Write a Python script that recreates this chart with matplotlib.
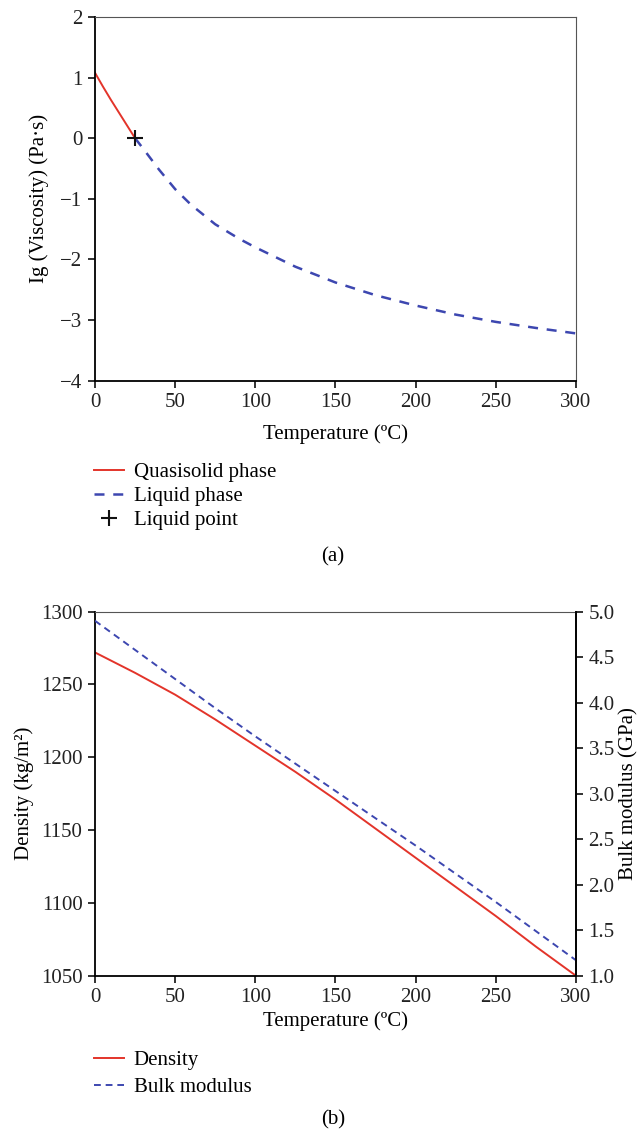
import matplotlib
matplotlib.use("Agg")
import matplotlib.pyplot as plt

plt.rcParams['font.family'] = ['Liberation Serif', 'DejaVu Serif']
plt.rcParams['font.size'] = 15

RED = '#e3342a'
BLUE = '#3d47b0'

# (a) viscosity vs temperature
solid_t = [0, 5, 10, 15, 20, 25]
solid_lgv = [1.08, 0.85, 0.63, 0.42, 0.21, 0.0]

liquid_t = [25, 30, 40, 50, 60, 75, 90, 100, 125, 150, 175, 200, 225, 250, 275, 300]
liquid_lgv = [0.0, -0.17, -0.52, -0.84, -1.10, -1.42, -1.66, -1.80, -2.12, -2.38, -2.59,
              -2.76, -2.91, -3.03, -3.13, -3.22]

liquid_point = (25, 0.0)

# (b) density and bulk modulus vs temperature
prop_t = [0, 25, 50, 75, 100, 125, 150, 175, 200, 225, 250, 275, 300]
density = [1272, 1258, 1243, 1226, 1208, 1190, 1171, 1151, 1131, 1111, 1091, 1070, 1050]
bulk_modulus = [4.90, 4.58, 4.26, 3.94, 3.63, 3.33, 3.03, 2.73, 2.43, 2.12, 1.81, 1.49, 1.17]

fig = plt.figure(figsize=(6.4, 11.3), dpi=100)


def style_axes(ax):
    ax.tick_params(direction='out', length=5, width=1.3, colors='#222222', pad=4)
    ax.tick_params(top=False, right=False)
    ax.spines['left'].set_linewidth(1.3)
    ax.spines['bottom'].set_linewidth(1.3)
    for s in ['top', 'right']:
        ax.spines[s].set_linewidth(0.8)
        ax.spines[s].set_color('#555555')


# ---- panel (a)
ax1 = fig.add_axes([0.1484, 0.6631, 0.7516, 0.3219])
ax1.plot(solid_t, solid_lgv, color=RED, lw=1.4, label='Quasisolid phase')
ax1.plot(liquid_t, liquid_lgv, color=BLUE, lw=1.8, ls=(0, (4, 3.5)), label='Liquid phase')
ax1.plot(*liquid_point, marker='+', ms=11, mew=1.5, color='#111111', ls='none',
         label='Liquid point')
ax1.set_xlim(0, 300)
ax1.set_ylim(-4, 2)
ax1.set_xticks(range(0, 301, 50))
ax1.set_yticks(range(-4, 3))
ax1.set_yticklabels(['\u22124', '\u22123', '\u22122', '\u22121', '0', '1', '2'])
ax1.set_xlabel('Temperature (ºC)', labelpad=9)
ax1.set_ylabel('Ig (Viscosity) (Pa·s)', labelpad=8)
style_axes(ax1)
ax1.legend(loc='upper left', bbox_to_anchor=(-0.002, -0.226), frameon=False,
           handlelength=1.45, handletextpad=0.45, labelspacing=0.2, borderpad=0,
           borderaxespad=0)
fig.text(0.52, 1 - 557 / 1130, '(a)', ha='center', va='center')

# ---- panel (b)
ax2 = fig.add_axes([0.1484, 0.1365, 0.7516, 0.3222])
l1, = ax2.plot(prop_t, density, color=RED, lw=1.4, label='Density')
ax2.set_xlim(0, 300)
ax2.set_ylim(1050, 1300)
ax2.set_xticks(range(0, 301, 50))
ax2.set_yticks(range(1050, 1301, 50))
ax2.set_xlabel('Temperature (ºC)', labelpad=3)
ax2.set_ylabel('Density (kg/m²)', labelpad=5)
style_axes(ax2)
ax2.spines['right'].set_color('#222222')
ax2.spines['right'].set_linewidth(1.3)

ax3 = ax2.twinx()
l2, = ax3.plot(prop_t, bulk_modulus, color=BLUE, lw=1.4, ls=(0, (3.5, 2.5)),
               label='Bulk modulus')
ax3.set_ylim(1.0, 5.0)
ax3.set_yticks([1.0, 1.5, 2.0, 2.5, 3.0, 3.5, 4.0, 4.5, 5.0])
ax3.set_yticklabels(['1.0', '1.5', '2.0', '2.5', '3.0', '3.5', '4.0', '4.5', '5.0'])
ax3.tick_params(direction='out', length=5, width=1.3, colors='#222222', pad=4)
ax3.set_ylabel('Bulk modulus (GPa)', labelpad=3)
for s in ['top', 'left', 'bottom']:
    ax3.spines[s].set_visible(False)
ax3.spines['right'].set_linewidth(1.3)

ax2.legend(handles=[l1, l2], loc='upper left', bbox_to_anchor=(-0.002, -0.2055),
           frameon=False, handlelength=1.45, handletextpad=0.45, labelspacing=0.35,
           borderpad=0, borderaxespad=0)
fig.text(0.52, 1 - 1120 / 1130, '(b)', ha='center', va='center')

fig.savefig('out.png', dpi=100)
